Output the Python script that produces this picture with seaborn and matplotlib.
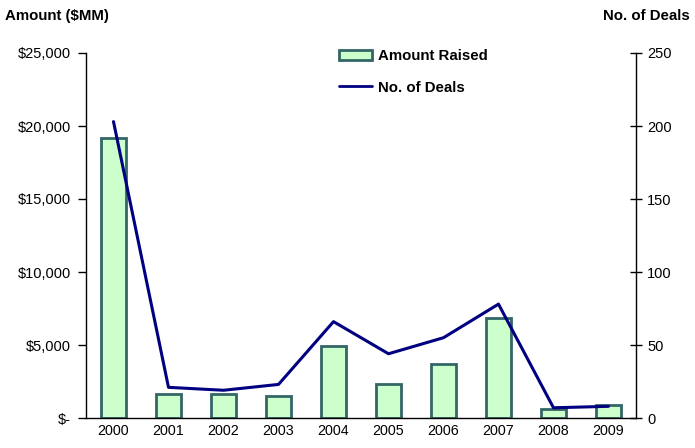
import numpy as np
import pandas as pd
import seaborn as sns
import matplotlib.pyplot as plt
from matplotlib.patches import Patch
from matplotlib.lines import Line2D
from matplotlib.ticker import FuncFormatter, FixedLocator

years = ['2000', '2001', '2002', '2003', '2004', '2005', '2006', '2007', '2008', '2009']
amount_raised = [19200, 1650, 1650, 1500, 4950, 2330, 3700, 6850, 600, 900]
num_deals = [203, 21, 19, 23, 66, 44, 55, 78, 7, 8]

df = pd.DataFrame({'year': years, 'amount': amount_raised, 'deals': num_deals})

sns.set_style('white')
plt.rcParams['font.family'] = ['Liberation Sans', 'DejaVu Sans']
plt.rcParams['text.color'] = 'black'
plt.rcParams['xtick.color'] = 'black'
plt.rcParams['ytick.color'] = 'black'
plt.rcParams['axes.labelcolor'] = 'black'

fig = plt.figure(figsize=(6.95, 4.48), dpi=100)
ax = fig.add_axes([86 / 695, 30 / 448, 550 / 695, 365 / 448])

sns.barplot(data=df, x='year', y='amount', ax=ax, width=0.45,
            color='#CCFFCC', edgecolor='#336666', linewidth=2, saturation=1)
ax.set_xlim(-0.5, 9.5)
ax.set_ylim(0, 25000)
ax.set_yticks(np.arange(0, 25001, 5000))
ax.yaxis.set_major_formatter(FuncFormatter(lambda v, p: '$-' if v == 0 else f'${v:,.0f}'))
ax.set_xlabel('')
ax.set_ylabel('')

ax2 = ax.twinx()
sns.lineplot(x=np.arange(len(years)), y=df['deals'], ax=ax2, color='#000080', linewidth=2.2)
ax2.set_ylim(0, 250)
ax2.set_yticks(np.arange(0, 251, 50))
ax2.set_ylabel('')
ax2.set_xlim(-0.5, 9.5)

# category boundary ticks on the x axis
ax.xaxis.set_minor_locator(FixedLocator(np.arange(-0.5, 10, 1)))
ax.tick_params(axis='x', which='major', length=0, labelsize=10.3, pad=4)
ax.tick_params(axis='x', which='minor', direction='inout', length=8, width=1, color='black')
ax.tick_params(axis='y', direction='out', length=6, width=1, color='black', labelsize=10.5, pad=5, left=True)
ax2.tick_params(axis='y', direction='inout', length=8, width=1, color='black', labelsize=10.5, pad=4, right=True)

for a in (ax, ax2):
    a.spines['top'].set_visible(False)
    for s in ('left', 'right', 'bottom'):
        a.spines[s].set_color('black')
        a.spines[s].set_linewidth(1)
ax.spines['right'].set_visible(False)
ax2.spines['left'].set_visible(False)
ax2.spines['bottom'].set_visible(False)

fig.text(5 / 695, 1 - 16 / 448, 'Amount ($MM)', fontsize=10.8, fontweight='bold', va='center', ha='left')
fig.text(690 / 695, 1 - 16 / 448, 'No. of Deals', fontsize=10.8, fontweight='bold', va='center', ha='right')

handles = [Patch(facecolor='#CCFFCC', edgecolor='#336666', linewidth=2),
           Line2D([0], [0], color='#000080', linewidth=2)]
ax2.legend(handles, ['Amount Raised', 'No. of Deals'], loc='upper left',
           bbox_to_anchor=(325 / 695, 1 - 36 / 448), bbox_transform=fig.transFigure,
           frameon=False, handlelength=2.2, handletextpad=0.4,
           prop={'weight': 'bold', 'size': 10.8}, labelspacing=1.15)

plt.savefig('out.png', dpi=100)
